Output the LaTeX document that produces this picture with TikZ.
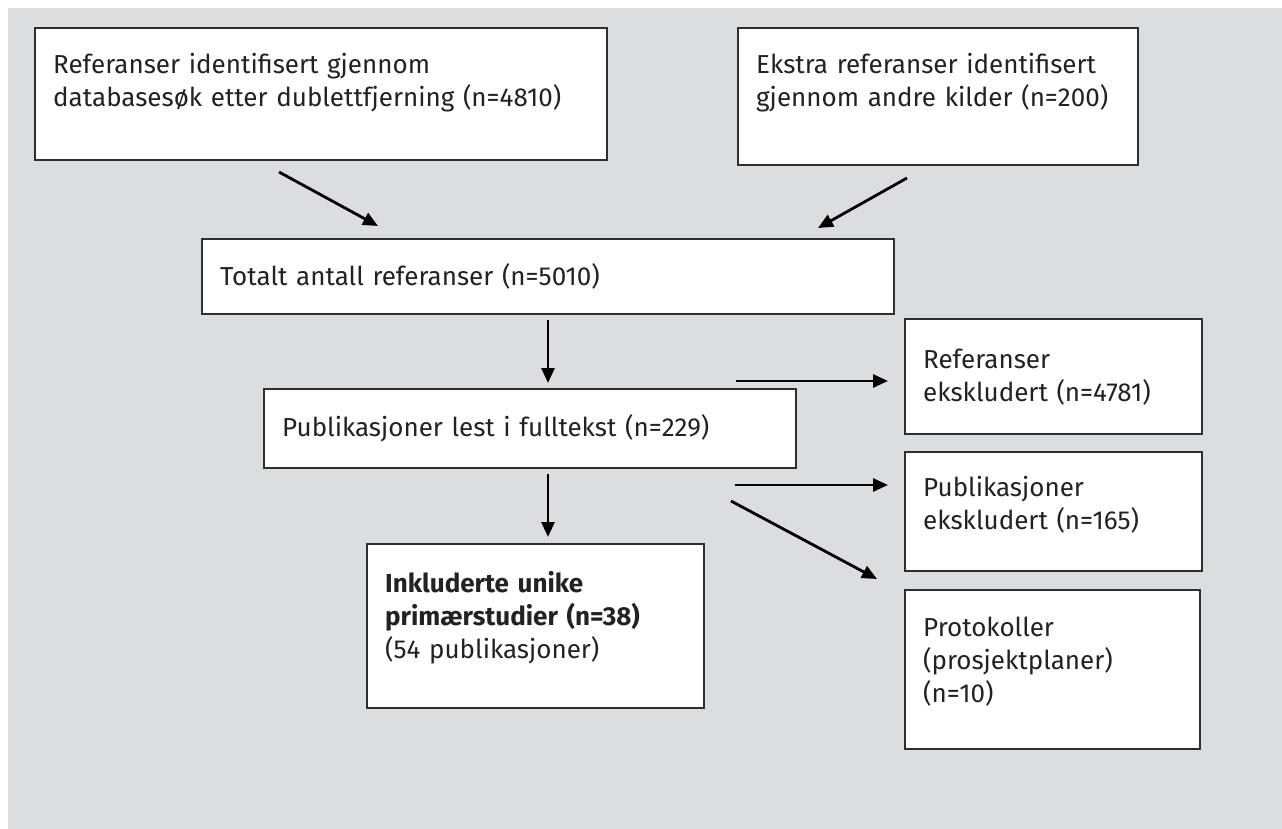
\documentclass[tikz,border=0pt]{standalone}
\usepackage{fontspec}
\setmainfont{Fira Sans}
\usetikzlibrary{arrows.meta}
\definecolor{bg}{HTML}{DCDDDF}
\definecolor{edge}{HTML}{2E2E2E}
\definecolor{ink}{HTML}{222222}
% extra depth below the last line, lifts the text a bit
\newcommand\liftby[1]{\rule[-#1]{0pt}{0pt}}

\begin{document}
\begin{tikzpicture}[x=1pt,y=-1pt,
    box/.style={draw=edge,line width=2.4pt,fill=white,anchor=north west,
      align=left,inner xsep=18pt,inner ysep=0pt,text=ink,
      font=\fontsize{26}{33}\selectfont},
    arr/.style={line width=2.8pt,-{Triangle[length=15pt,width=13pt]}}]
  % Background
  \useasboundingbox (0,0) rectangle (1282,829);
  \fill[bg] (8,8) rectangle (1282,829);

  % Top boxes
  \node[box,text width=536pt,minimum height=132pt] (refdb) at (34,27)
    {Referanser identifisert gjennom\\databasesøk etter dublettfjerning (n=4810)\liftby{28pt}};
  \node[box,text width=364pt,minimum height=137pt] (refextra) at (737,27)
    {Ekstra referanser identifisert\\gjennom andre kilder (n=200)\liftby{34pt}};

  % Main column
  \node[box,text width=656pt,minimum height=75pt] (total) at (201,238)
    {Totalt antall referanser (n=5010)};
  \node[box,text width=496pt,minimum height=79pt] (fulltext) at (263,388)
    {Publikasjoner lest i fulltekst (n=229)};
  \node[box,text width=301pt,minimum height=164pt] (included) at (366,543)
    {\textbf{Inkluderte unike}\\\textbf{primærstudier (n=38)}\\(54 publikasjoner)\liftby{22pt}};

  % Excluded column
  \node[box,text width=261pt,minimum height=115pt] (refexcl) at (904,318)
    {Referanser\\ekskludert (n=4781)};
  \node[box,text width=261pt,minimum height=119pt] (pubexcl) at (904,451)
    {Publikasjoner\\ekskludert (n=165)\liftby{18pt}};
  \node[box,text width=259pt,minimum height=159pt] (protocols) at (904,589)
    {Protokoller\\(prosjektplaner)\\(n=10)\liftby{20pt}};

  % Arrow ends
  \coordinate (refdb-out) at (279,172);
  \coordinate (refextra-out) at (907,178);
  \coordinate (total-in1) at (378,226);
  \coordinate (total-in2) at (818,228);
  \coordinate (total-out) at (548,320);
  \coordinate (fulltext-in) at (548,383);
  \coordinate (fulltext-out) at (548,474);
  \coordinate (included-in) at (548,537);
  \coordinate (refexcl-from) at (736,381);
  \coordinate (refexcl-in) at (888,381);
  \coordinate (pubexcl-from) at (735,485);
  \coordinate (pubexcl-in) at (888,485);
  \coordinate (protocols-from) at (731,501);
  \coordinate (protocols-in) at (877,579);

  % Arrows
  \draw[arr] (refdb-out) -- (total-in1);
  \draw[arr] (refextra-out) -- (total-in2);
  \draw[arr] (total-out) -- (fulltext-in);
  \draw[arr] (refexcl-from) -- (refexcl-in);
  \draw[arr] (fulltext-out) -- (included-in);
  \draw[arr] (pubexcl-from) -- (pubexcl-in);
  \draw[arr] (protocols-from) -- (protocols-in);
\end{tikzpicture}
\end{document}
